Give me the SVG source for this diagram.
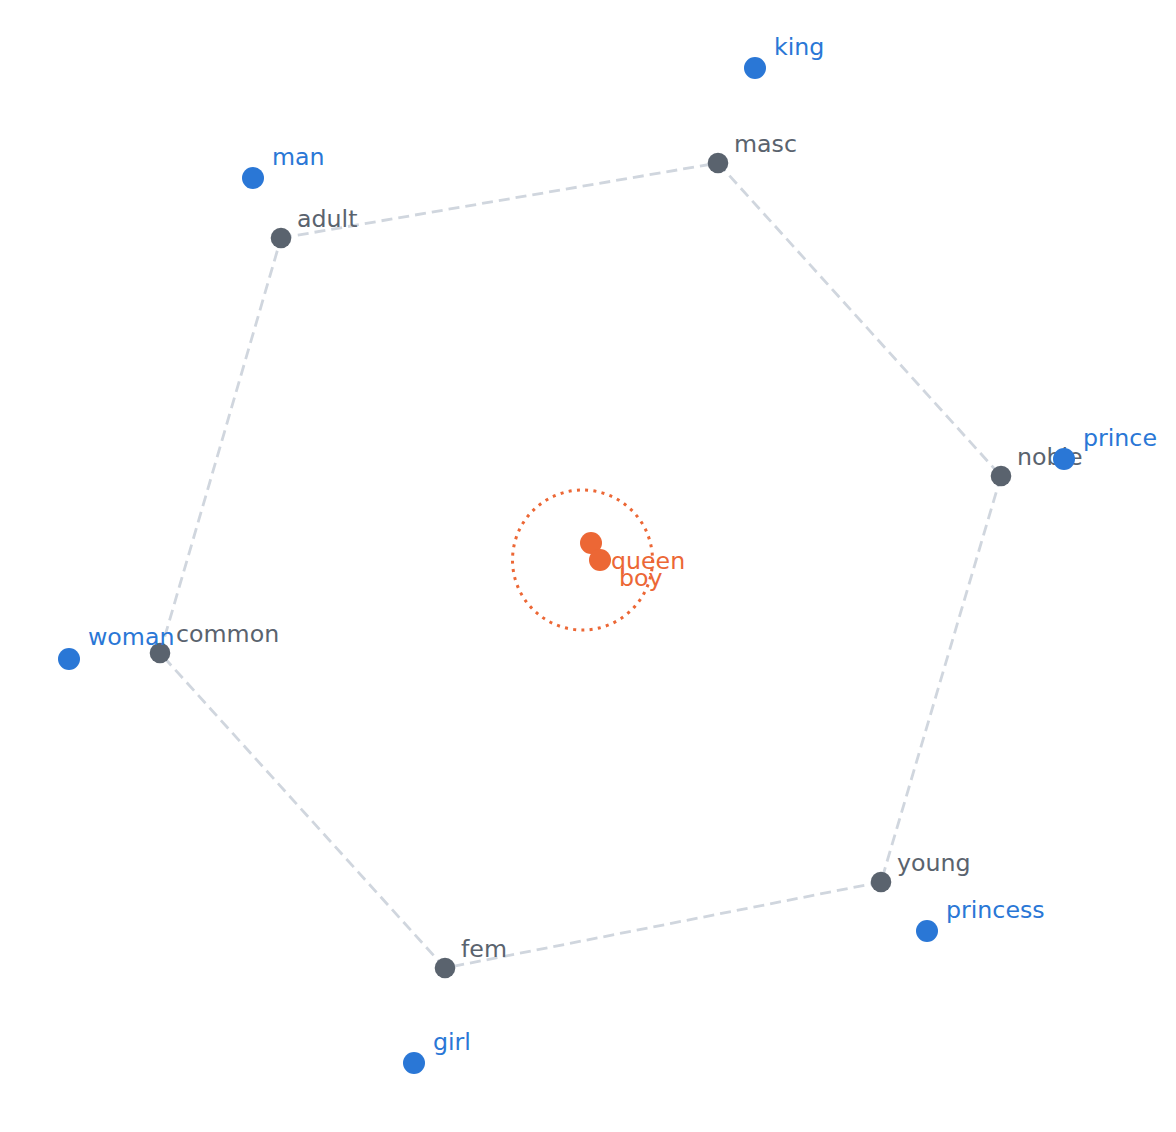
<svg xmlns="http://www.w3.org/2000/svg" width="1176" height="1132" viewBox="0 0 1176 1132">
<style>
text{font-family:"DejaVu Sans",Verdana,sans-serif;font-size:23.7px}
.edge{stroke:#d0d6de;stroke-width:2.8;stroke-dasharray:11 6;fill:none}
.word circle{fill:#2a77d6}
.word text{fill:#2a77d6}
.axis circle{fill:#5a636e}
.axis text{fill:#5a636e}
.res circle{fill:#ec6735}
.res text{fill:#ec6735}
</style>
<rect width="1176" height="1132" fill="#ffffff"/>
<g id="connectors">
<line class="edge" x1="281" y1="238" x2="718" y2="163"/>
<line class="edge" x1="718" y1="163" x2="1001" y2="476"/>
<line class="edge" x1="1001" y1="476" x2="881" y2="882"/>
<line class="edge" x1="881" y1="882" x2="445" y2="968"/>
<line class="edge" x1="445" y1="968" x2="160" y2="653"/>
<line class="edge" x1="160" y1="653" x2="281" y2="238"/>
</g>
<g id="neighborhood">
<circle cx="582.5" cy="560" r="70" fill="none" stroke="#ec6735" stroke-width="3" stroke-dasharray="3 5.3"/>
</g>
<g id="axis-masc" class="axis"><circle cx="718" cy="163" r="10.3"/><text x="734" y="152">masc</text></g>
<g id="axis-adult" class="axis"><circle cx="281" cy="238" r="10.3"/><text x="297" y="227">adult</text></g>
<g id="axis-noble" class="axis"><circle cx="1001" cy="476" r="10.3"/><text x="1017" y="465">noble</text></g>
<g id="axis-common" class="axis"><circle cx="160" cy="653" r="10.3"/><text x="176" y="642">common</text></g>
<g id="axis-young" class="axis"><circle cx="881" cy="882" r="10.3"/><text x="897" y="871">young</text></g>
<g id="axis-fem" class="axis"><circle cx="445" cy="968" r="10.3"/><text x="461" y="957">fem</text></g>
<g id="word-king" class="word"><circle cx="755" cy="68" r="11"/><text x="774" y="55">king</text></g>
<g id="word-man" class="word"><circle cx="253" cy="178" r="11"/><text x="272" y="165">man</text></g>
<g id="word-prince" class="word"><circle cx="1064" cy="459" r="11"/><text x="1083" y="446">prince</text></g>
<g id="word-woman" class="word"><circle cx="69" cy="659" r="11"/><text x="88" y="645">woman</text></g>
<g id="word-princess" class="word"><circle cx="927" cy="931" r="11"/><text x="946" y="918">princess</text></g>
<g id="word-girl" class="word"><circle cx="414" cy="1063" r="11"/><text x="433" y="1050">girl</text></g>
<g id="result-queen" class="res"><circle cx="591" cy="543" r="11"/><text x="611" y="569">queen</text></g>
<g id="result-boy" class="res"><circle cx="600" cy="560" r="11"/><text x="619" y="586">boy</text></g>
</svg>
